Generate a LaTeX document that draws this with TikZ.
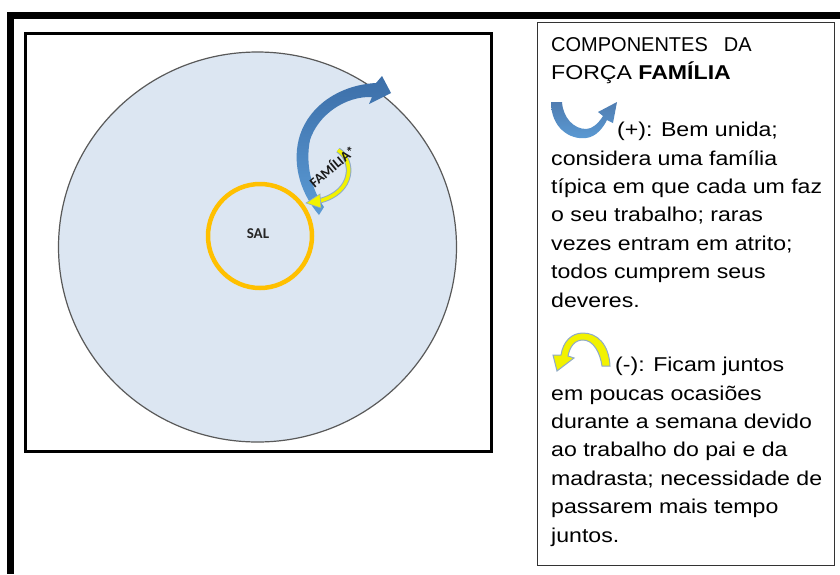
\documentclass[tikz,border=0pt]{standalone}
\usepackage{fontspec}
\setmainfont{Liberation Sans}
\newfontfamily\bodyfont{Liberation Sans}[FakeStretch=1.155]
\newfontfamily\calib{Carlito}
\definecolor{circfill}{HTML}{DCE6F2}
\definecolor{circline}{HTML}{595959}
\definecolor{salorange}{HTML}{FFC000}
\definecolor{bluedark}{HTML}{3C6EA8}
\definecolor{bluelight}{HTML}{5B9BD5}
\definecolor{arrowyellow}{HTML}{F2F200}
\definecolor{yedge}{HTML}{8FAAC8}
\definecolor{boxline}{HTML}{333333}
\tikzset{
  bodytext/.style={anchor=base west, inner sep=0pt, align=left, text=black,
    font=\bodyfont\fontsize{20}{28.4}\selectfont},
  headtext/.style={anchor=base west, inner sep=0pt, align=left, text=black,
    font=\fontsize{20}{28}\selectfont},
  label/.style={inner sep=0pt, text=black!85, font=\calib\bfseries},
}
\begin{document}
\begin{tikzpicture}[x=1pt,y=-1pt]
\useasboundingbox (0,0) rectangle (840,574);
\fill[white] (0,0) rectangle (840,574);
% outer frame
\draw[line width=7pt, line join=miter] (840,15.5) -- (10.5,15.5) -- (10.5,574);
% inner box
\draw[line width=3.5pt] (25.5,33.5) rectangle (491.5,451.5);
% big circle
\draw[fill=circfill, draw=circline, line width=1.2pt] (257.5,247) ellipse [x radius=199, y radius=195];
% SAL circle
\node[circle, draw=salorange, line width=4.5pt, minimum size=104pt, inner sep=0pt] (sal) at (260,236) {};
\node[label, font=\calib\bfseries\fontsize{15}{18}\selectfont] (saltext) at (258,234) {SAL};
% blue curved arrow
\shade[left color=bluedark, right color=bluelight, shading angle=0]
  (319,215) .. controls (298,190) and (292,160) .. (300,135)
  .. controls (310,105) and (340,85) .. (376,83)
  -- (382,76) -- (391,93) -- (369,104) -- (372,97)
  .. controls (345,96) and (318,115) .. (310,140)
  .. controls (305,165) and (312,190) .. (324,207) -- cycle;
% yellow small arrow
\draw[line width=5.5pt, yedge] (338,150) .. controls (354,160) and (355,192) .. (319,201);
\draw[line width=3.5pt, arrowyellow] (338,150) .. controls (354,160) and (355,192) .. (319,201);
\filldraw[fill=arrowyellow, draw=yedge, line width=0.6pt] (320,194) -- (306,203) -- (321,208) -- cycle;
\node[label, rotate=40, text=black!90, font=\calib\bfseries\fontsize{14}{16}\selectfont] (fam) at (332,166) {FAMÍLIA*};
% right legend box
\draw[boxline, line width=1.5pt] (537.5,22.5) rectangle (834.5,565.5);
\node[headtext] (head) at (551,79) {COMPONENTES\hspace{16pt}DA\\{\bodyfont FORÇA \textbf{FAMÍLIA}}};
% legend icon plus
\shade[left color=bluedark!90, right color=bluelight, shading angle=0]
  (551,102) .. controls (551,128) and (570,140) .. (586,138)
  .. controls (596,137) and (603,128) .. (607,120)
  -- (613,123) -- (617,102) -- (598,112) -- (603,116)
  .. controls (598,124) and (592,129) .. (586,129)
  .. controls (574,129) and (563,118) .. (562,102) -- cycle;
\node[bodytext] (plus) at (551,307) {\hspace{66pt}(+): Bem unida;\\considera uma família\\típica em que cada um faz\\o seu trabalho; raras\\vezes entram em atrito;\\todos cumprem seus\\deveres.};
% legend icon minus
\filldraw[fill=arrowyellow, draw=yedge, line width=1pt]
  (610,366) .. controls (609,344) and (597,333) .. (583,333)
  .. controls (571,333) and (563,342) .. (561,355)
  -- (553,355) -- (557,371) -- (574,358) -- (568,356)
  .. controls (570,346) and (575,340) .. (583,340)
  .. controls (593,340) and (600,352) .. (602,366) -- cycle;
\node[bodytext] (minus) at (551,542) {\hspace{64pt}(-): Ficam juntos\\em poucas ocasiões\\durante a semana devido\\ao trabalho do pai e da\\madrasta; necessidade de\\passarem mais tempo\\juntos.};
\end{tikzpicture}
\end{document}
